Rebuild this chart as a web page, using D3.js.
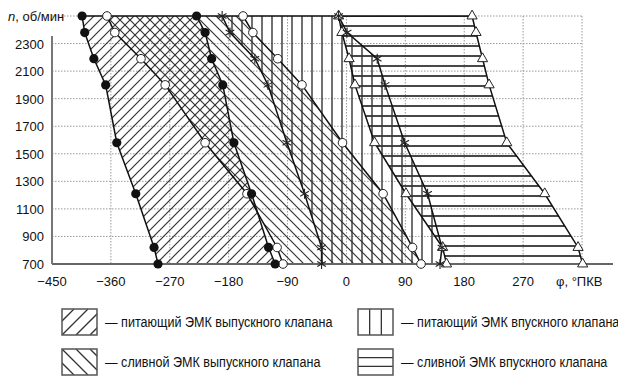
<!DOCTYPE html>
<html lang="ru">
<head>
  <meta charset="UTF-8">
  <title>ЭМК</title>
  <style>
    body { margin: 0; background: #fff; }
    svg { display: block; }
    .tick-label { font-family: "Liberation Sans", Arial, sans-serif; font-size: 13px; fill: #111; }
    .legend-label { font-family: "Liberation Sans", Arial, sans-serif; font-size: 15px; fill: #111; }
  </style>
</head>
<body>
  <div id="chart"></div>

  <script src="https://d3js.org/d3.v7.min.js"></script>
  <script>
    // частота вращения, об/мин
    const rpm = [2500, 2380, 2190, 2000, 1580, 1210, 820, 700];
    // углы, град ПКВ
    const exhFeedOpen   = [-404, -400, -386, -368, -351, -322, -294, -288];
    const exhFeedClose  = [-229, -216, -206, -189, -172, -145, -119, -109];
    const exhDrainOpen  = [-366, -354, -314, -277, -216, -152, -106, -97];
    const exhDrainClose = [-158, -143, -105, -68, -6, 56, 101, 114];
    const intFeedOpen   = [-190, -178, -140, -120, -91, -64, -38, -38];
    const intFeedClose  = [-12, 1, 47, 59, 89, 124, 146, 143];
    const intDrainOpen  = [-12, -7, 4, 13, 43, 91, 147, 153];
    const intDrainClose = [192, 198, 208, 218, 245, 303, 354, 361];

    const xTicks = [-450, -360, -270, -180, -90, 0, 90, 180, 270];
    const yTicks = [700, 900, 1100, 1300, 1500, 1700, 1900, 2100, 2300];
    const legendItems = [
      { label: "— питающий ЭМК выпускного клапана", pat: "up" },
      { label: "— сливной ЭМК выпускного клапана", pat: "down" },
      { label: "— питающий ЭМК впускного клапана", pat: "vert" },
      { label: "— сливной ЭМК впускного клапана", pat: "horiz" }
    ];

    const W = 618, H = 376;
    const x = d3.scaleLinear().domain([-450, 360]).range([52, 582]);
    const y = d3.scaleLinear().domain([700, 2500]).range([264, 16]);

    const svg = d3.select("#chart").append("svg")
      .attr("width", W).attr("height", H);

    // штриховки
    const defs = svg.append("defs");
    function pattern(id, d, sw) {
      defs.append("pattern")
        .attr("id", id)
        .attr("patternUnits", "userSpaceOnUse")
        .attr("width", 10).attr("height", 10)
        .append("path")
        .attr("d", d)
        .attr("stroke", "#333")
        .attr("stroke-width", sw)
        .attr("fill", "none");
    }
    pattern("up", "M-1,1 l2,-2 M0,10 l10,-10 M9,11 l2,-2", 1.2);
    pattern("down", "M-1,9 l2,2 M0,0 l10,10 M9,-1 l2,2", 1.2);
    pattern("vert", "M2,0 v10", 1.4);
    pattern("horiz", "M0,6 h10", 1.8);

    // сетка
    const grid = svg.append("g")
      .attr("stroke", "#999")
      .attr("stroke-width", 1)
      .attr("stroke-dasharray", "1.5,1.5");
    grid.selectAll(".gy")
      .data(yTicks.slice(1).concat([2500]))
      .enter().append("line")
      .attr("x1", x(-450)).attr("x2", x(360))
      .attr("y1", d => y(d)).attr("y2", d => y(d));
    grid.selectAll(".gx")
      .data(xTicks.slice(1).concat([360]))
      .enter().append("line")
      .attr("x1", d => x(d)).attr("x2", d => x(d))
      .attr("y1", y(2500)).attr("y2", y(700));

    // области
    const regions = [
      { open: exhFeedOpen, close: exhFeedClose, pat: "up" },
      { open: exhDrainOpen, close: exhDrainClose, pat: "down" },
      { open: intFeedOpen, close: intFeedClose, pat: "vert" },
      { open: intDrainOpen, close: intDrainClose, pat: "horiz" }
    ];
    const area = d3.area()
      .y(d => y(d.n))
      .x0(d => x(d.a))
      .x1(d => x(d.b));
    regions.forEach(r => {
      const pts = rpm.map((n, i) => ({ n: n, a: r.open[i], b: r.close[i] }));
      svg.append("path")
        .attr("d", area(pts))
        .attr("fill", `url(#${r.pat})`);
    });

    // кривые
    const line = d3.line().x(d => x(d.v)).y(d => y(d.n));
    const curves = [
      { vals: exhFeedOpen, mark: "dot" },
      { vals: exhDrainOpen, mark: "ring" },
      { vals: exhFeedClose, mark: "dot" },
      { vals: intFeedOpen, mark: "star" },
      { vals: exhDrainClose, mark: "ring" },
      { vals: intDrainOpen, mark: "tri" },
      { vals: intFeedClose, mark: "star" },
      { vals: intDrainClose, mark: "tri" }
    ];
    curves.forEach(c => {
      const pts = rpm.map((n, i) => ({ n: n, v: c.vals[i] }));
      svg.append("path")
        .attr("d", line(pts))
        .attr("fill", "none")
        .attr("stroke", "#111")
        .attr("stroke-width", 1.5);
    });

    // верхняя граница при 2500
    svg.append("line")
      .attr("x1", x(exhFeedOpen[0])).attr("x2", x(intDrainClose[0]))
      .attr("y1", y(rpm[0])).attr("y2", y(rpm[0]))
      .attr("stroke", "#111").attr("stroke-width", 1.5);

    // оси
    svg.append("line")
      .attr("x1", x(-450)).attr("x2", 613)
      .attr("y1", y(700)).attr("y2", y(700))
      .attr("stroke", "#666").attr("stroke-width", 2);
    svg.append("line")
      .attr("x1", x(-450)).attr("x2", x(-450))
      .attr("y1", 36).attr("y2", y(700))
      .attr("stroke", "#777").attr("stroke-width", 2);

    // маркеры
    curves.forEach(c => {
      const g = svg.append("g");
      rpm.forEach((n, i) => {
        const cx = x(c.vals[i]), cy = y(n);
        if (c.mark === "dot") {
          g.append("circle").attr("cx", cx).attr("cy", cy).attr("r", 4.6)
            .attr("fill", "#111");
        } else if (c.mark === "ring") {
          g.append("circle").attr("cx", cx).attr("cy", cy).attr("r", 4.3)
            .attr("fill", "#fff").attr("stroke", "#222").attr("stroke-width", 1);
        } else if (c.mark === "tri") {
          g.append("path").attr("d", d3.symbol(d3.symbolTriangle, 45)())
            .attr("transform", `translate(${cx},${cy})`)
            .attr("fill", "#fff").attr("stroke", "#222").attr("stroke-width", 1);
        } else {
          g.append("path").attr("d", d3.symbol(d3.symbolAsterisk, 70)())
            .attr("transform", `translate(${cx},${cy})`)
            .attr("fill", "none").attr("stroke", "#222").attr("stroke-width", 1.1);
        }
      });
    });

    // подписи осей
    svg.selectAll(".xl")
      .data(xTicks)
      .enter().append("text")
      .attr("class", "tick-label")
      .attr("x", d => x(d))
      .attr("y", 286)
      .attr("text-anchor", "middle")
      .text(d => d3.format("d")(d));
    svg.selectAll(".yl")
      .data(yTicks)
      .enter().append("text")
      .attr("class", "tick-label")
      .attr("x", 44)
      .attr("y", d => y(d) + 5)
      .attr("text-anchor", "end")
      .text(d => d);

    const nLab = svg.append("text").attr("class", "tick-label")
      .attr("x", 8).attr("y", 21);
    nLab.append("tspan").attr("font-style", "italic").text("n");
    nLab.append("tspan").text(", об/мин");

    svg.append("text").attr("class", "tick-label")
      .attr("x", 556).attr("y", 286)
      .text("φ, °ПКВ");

    // легенда
    const legPos = [[62, 309], [62, 349], [358, 309], [358, 349]];
    legendItems.forEach((it, i) => {
      const [lx, ly] = legPos[i];
      const g = svg.append("g").attr("transform", `translate(${lx},${ly})`);
      const bw = 35, bh = 26;
      const clipId = "lc" + i;
      g.append("clipPath").attr("id", clipId)
        .append("rect").attr("width", bw).attr("height", bh);
      const hatch = g.append("g").attr("clip-path", `url(#${clipId})`)
        .attr("stroke", "#333").attr("stroke-width", 1.3);
      let segs = [];
      if (it.pat === "up") {
        segs = [-14, 0, 14, 28].map(o => [o, bh, o + bh, 0]);
      } else if (it.pat === "down") {
        segs = [-14, 0, 14, 28].map(o => [o, 0, o + bh, bh]);
      } else if (it.pat === "vert") {
        segs = [bw / 3, 2 * bw / 3].map(o => [o, 0, o, bh]);
      } else {
        segs = [bh / 3, 2 * bh / 3].map(o => [0, o, bw, o]);
      }
      hatch.selectAll("line").data(segs).enter().append("line")
        .attr("x1", d => d[0]).attr("y1", d => d[1])
        .attr("x2", d => d[2]).attr("y2", d => d[3]);
      g.append("rect").attr("width", bw).attr("height", bh)
        .attr("fill", "none").attr("stroke", "#555").attr("stroke-width", 1.5);
      // узкое начертание: сжимаем по горизонтали
      g.append("g")
        .attr("transform", `translate(${bw + 8},${bh / 2 + 5}) scale(0.84,1)`)
        .append("text").attr("class", "legend-label")
        .text(it.label);
    });
  </script>
</body>
</html>
